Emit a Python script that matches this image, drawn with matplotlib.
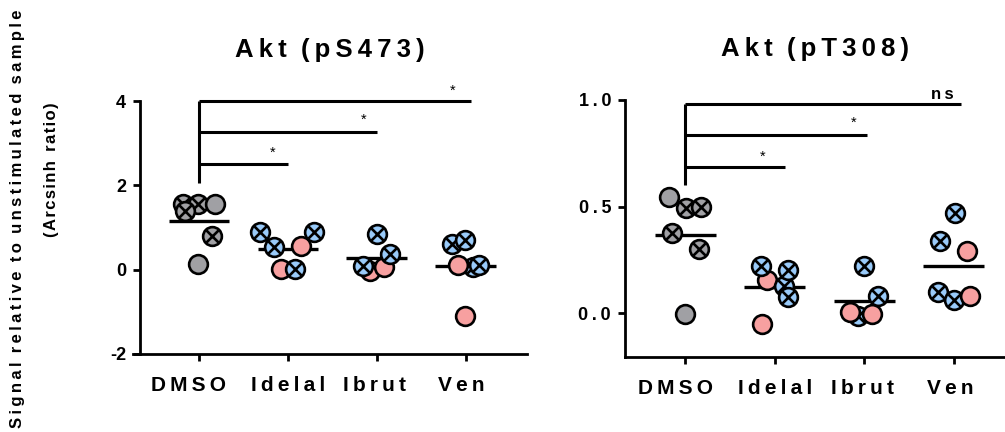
import matplotlib
matplotlib.use('Agg')
import matplotlib.pyplot as plt
import matplotlib.transforms as mtransforms

plt.rcParams['font.family'] = ['Liberation Sans', 'DejaVu Sans']
plt.rcParams['font.weight'] = 'bold'

groups = ['DMSO', 'Idelal', 'Ibrut', 'Ven']

# Akt (pS473) values per group, with marker kind: 'c' = crossed, 'o' = plain
s473_DMSO = [1.55, 1.55, 1.55, 1.38, 0.79, 0.13]
s473_Idelal = [0.02, 0.55, 0.89, 0.53, 0.89, 0.02]
s473_Ibrut = [-0.02, 0.06, 0.85, 0.08, 0.36]
s473_Ven = [0.62, 0.71, 0.06, 0.12, 0.12, -1.09]
s473_kind = [['c', 'c', 'o', 'c', 'c', 'o'],
             ['o', 'o', 'c', 'c', 'c', 'c'],
             ['o', 'o', 'c', 'c', 'c'],
             ['c', 'c', 'c', 'o', 'c', 'o']]
s473_jit = [[-0.18, -0.01, 0.18, -0.15, 0.15, -0.01],
            [-0.08, 0.15, -0.31, -0.15, 0.30, 0.08],
            [-0.08, 0.08, 0.0, -0.15, 0.15],
            [-0.15, -0.01, 0.08, -0.09, 0.15, -0.01]]

# Akt (pT308)
t308_DMSO = [0.544, 0.494, 0.50, 0.376, 0.303, -0.002]
t308_Idelal = [0.157, -0.051, 0.22, 0.129, 0.204, 0.074]
t308_Ibrut = [-0.015, 0.008, -0.002, 0.22, 0.082]
t308_Ven = [0.47, 0.34, 0.293, 0.10, 0.06, 0.079]
t308_kind = [['o', 'c', 'c', 'c', 'c', 'o'],
             ['o', 'o', 'c', 'c', 'c', 'c'],
             ['c', 'o', 'o', 'c', 'c'],
             ['c', 'c', 'o', 'c', 'c', 'o']]
t308_jit = [[-0.18, 0.01, 0.18, -0.15, 0.16, 0.0],
            [-0.09, -0.14, -0.15, 0.10, 0.15, 0.15],
            [-0.07, -0.16, 0.09, 0.0, 0.15],
            [0.01, -0.15, 0.15, -0.18, 0.0, 0.18]]

# (bracket end, bracket y, label x, label y, label)
s473_sig = [(1, 2.51, 0.83, 2.77, '*'), (2, 3.27, 1.85, 3.55, '*'), (3.06, 4.0, 2.85, 4.24, '*')]
t308_sig = [(1.11, 0.686, 0.87, 0.733, '*'), (2.03, 0.838, 1.88, 0.894, '*'), (3.08, 0.98, 2.87, 1.026, 'ns')]

GRAY = '#a0a0a4'
BLUE = '#99caf9'
PINK = '#f7a0a0'


def spaced(s, sep='\u2009'):
    out = sep.join(s)
    return out.replace(sep + ' ' + sep, '  ')


def draw_panel(ax, data, kinds, jits, sig, vtop, vbot, title, yticks, ylabels,
               xlim, ylim, spine_x=None):
    if spine_x is not None:
        ax.spines['left'].set_position(('data', spine_x))
    z = 3
    for i, (vals, kk, jj) in enumerate(zip(data, kinds, jits)):
        mean = sum(vals) / len(vals)
        ax.plot([i - 0.34, i + 0.34], [mean, mean], color='black', lw=2.4,
                solid_capstyle='butt', zorder=2)
        for v, k, j in zip(vals, kk, jj):
            if i == 0:
                fc = GRAY
            else:
                fc = BLUE if k == 'c' else PINK
            ax.plot(i + j, v, 'o', ms=13.5, mfc=fc, mec='black', mew=1.9,
                    zorder=z, clip_on=False)
            if k == 'c':
                ax.plot(i + j, v, 'x', ms=9.2, mec='black', mew=1.9,
                        zorder=z + 0.5, clip_on=False)
            z += 1
    # comparison brackets
    ax.plot([0, 0], [vbot, vtop], color='black', lw=2.2, clip_on=False,
            solid_capstyle='butt', zorder=1)
    for xend, y, tx, ty, lab in sig:
        ax.plot([0, xend], [y, y], color='black', lw=2.2, clip_on=False,
                solid_capstyle='butt', zorder=1)
        if lab == '*':
            ax.text(tx, ty, '*', ha='center', va='center', fontsize=10.5,
                    fontweight='normal')
        else:
            ax.text(tx, ty, spaced(lab), ha='center', va='center', fontsize=12)
    ax.set_title(spaced(title), fontsize=18.5, fontweight='bold', pad=32)
    ax.set_xlim(*xlim)
    ax.set_ylim(*ylim)
    ax.set_xticks(range(len(groups)))
    ax.set_xticklabels([spaced(g) for g in groups], fontsize=15, fontweight='bold')
    ax.set_yticks(yticks)
    ax.set_yticklabels(ylabels, fontsize=13, fontweight='bold')
    for sp in ['top', 'right']:
        ax.spines[sp].set_visible(False)
    for sp in ['left', 'bottom']:
        ax.spines[sp].set_linewidth(2.0)
    ax.tick_params(axis='x', length=5, width=2.0, pad=11)
    ax.tick_params(axis='y', length=5, width=2.0, pad=5)
    # small horizontal nudges of the x labels, as in the original layout
    for lbl, dx in zip(ax.get_xticklabels(), [-10, 0, -2, -4]):
        lbl.set_transform(lbl.get_transform() +
                          mtransforms.ScaledTranslation(dx / 100, 0, fig.dpi_scale_trans))


fig = plt.figure(figsize=(10.05, 4.32), dpi=100)
ax1 = fig.add_axes([133 / 1005, 78 / 432, 394 / 1005, 253 / 432])
ax2 = fig.add_axes([625 / 1005, 75 / 432, 380 / 1005, 257 / 432])

draw_panel(ax1, [s473_DMSO, s473_Idelal, s473_Ibrut, s473_Ven], s473_kind, s473_jit,
           s473_sig, 4.0, 2.06, 'Akt (pS473)', [-2, 0, 2, 4], ['-2', '0', '2', '4'],
           (-0.74, 3.69), (-2, 4), spine_x=-0.66)

draw_panel(ax2, [t308_DMSO, t308_Idelal, t308_Ibrut, t308_Ven], t308_kind, t308_jit,
           t308_sig, 0.98, 0.603, 'Akt (pT308)', [0.0, 0.5, 1.0],
           [spaced('0.0'), spaced('0.5'), spaced('1.0')],
           (-0.67, 3.57), (-0.205, 1.0))

fig.text(18 / 1005, 1 - 219 / 432, spaced('Signal relative to unstimulated sample'),
         rotation=90, ha='center', va='center', fontsize=12, fontweight='bold')
fig.text(52 / 1005, 1 - 170 / 432, spaced('(Arcsinh ratio)', '\u200a'),
         rotation=90, ha='center', va='center', fontsize=12, fontweight='bold')

fig.savefig('out.png', dpi=100)
